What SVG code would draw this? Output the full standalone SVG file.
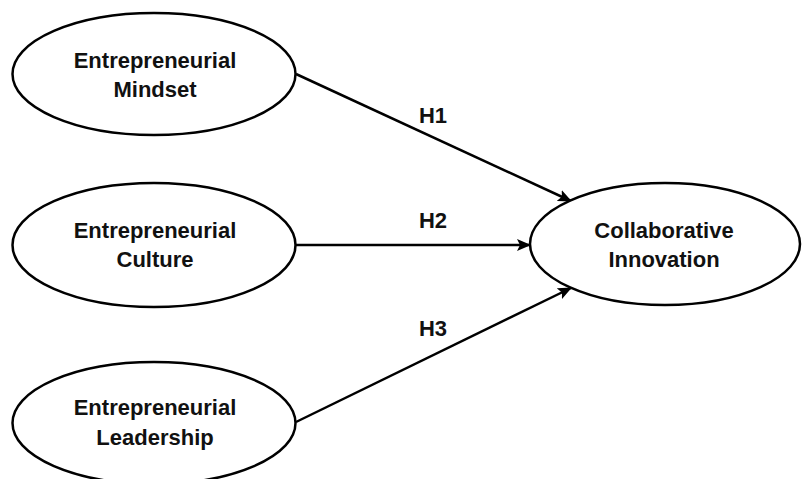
<svg xmlns="http://www.w3.org/2000/svg" width="803" height="479" viewBox="0 0 803 479">
<style>
.node ellipse{fill:#fff;stroke:#000;stroke-width:2.5}
text{font-family:"Liberation Sans",Arial,sans-serif;font-weight:bold;font-size:22px;fill:#111;text-anchor:middle}
.edge{stroke:#000;stroke-width:2.5;fill:none;marker-end:url(#arr)}
</style>
<defs>
<marker id="arr" markerUnits="userSpaceOnUse" markerWidth="14" markerHeight="12" refX="13" refY="6" orient="auto">
<path d="M0,0 L14,6 L0,12 L3,6 z" fill="#000"/>
</marker>
</defs>
<g id="connectors">
<line class="edge" x1="296" y1="74" x2="571" y2="201"/>
<line class="edge" x1="296" y1="245" x2="530" y2="245"/>
<line class="edge" x1="296" y1="422" x2="571" y2="288"/>
<text x="433" y="123">H1</text>
<text x="433" y="228">H2</text>
<text x="433" y="336">H3</text>
</g>
<g id="mindset" class="node">
<ellipse cx="154" cy="74" rx="141.5" ry="61"/>
<text x="155" y="68">Entrepreneurial</text>
<text x="155" y="97">Mindset</text>
</g>
<g id="culture" class="node">
<ellipse cx="154" cy="245" rx="141.5" ry="62"/>
<text x="155" y="238">Entrepreneurial</text>
<text x="155" y="267">Culture</text>
</g>
<g id="leadership" class="node">
<ellipse cx="154" cy="423" rx="141.5" ry="61"/>
<text x="155" y="415">Entrepreneurial</text>
<text x="155" y="445">Leadership</text>
</g>
<g id="innovation" class="node">
<ellipse cx="665" cy="244" rx="135" ry="61"/>
<text x="664" y="238">Collaborative</text>
<text x="664" y="267">Innovation</text>
</g>
</svg>
